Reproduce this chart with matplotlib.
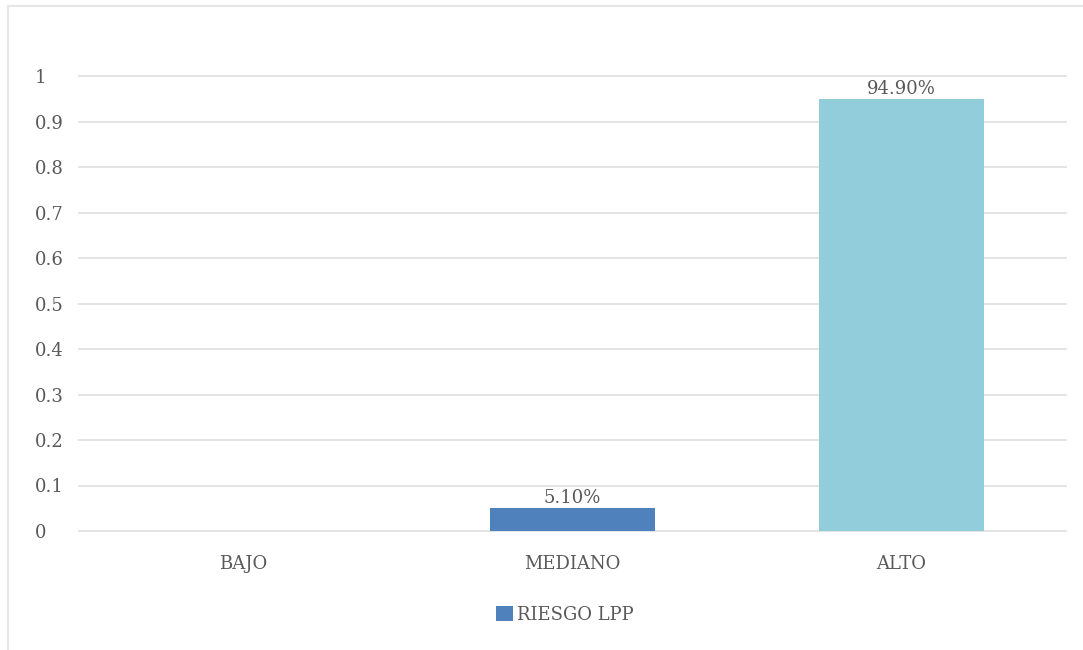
import matplotlib
matplotlib.use("Agg")
import matplotlib.pyplot as plt
from matplotlib.lines import Line2D
from matplotlib.patches import Patch

categories = ["BAJO", "MEDIANO", "ALTO"]
values = [0.0, 0.051, 0.949]
labels = ["", "5.10%", "94.90%"]
series_name = "RIESGO LPP"
yticks = [0, 0.1, 0.2, 0.3, 0.4, 0.5, 0.6, 0.7, 0.8, 0.9, 1]
ytick_labels = ["0", "0.1", "0.2", "0.3", "0.4", "0.5", "0.6", "0.7", "0.8", "0.9", "1"]
bar_colors = ["#4F81BD", "#4F81BD", "#92CDDC"]

plt.rcParams['font.family'] = ['DejaVu Serif']
text_color = "#595959"
fs = 13

fig = plt.figure(figsize=(10.83, 6.5), dpi=100)
ax = fig.add_axes([79/1083, 1 - 531/650, (1066 - 79)/1083, (531 - 76)/650])

x = list(range(len(categories)))
bars = ax.bar(x, values, width=0.5, color=bar_colors, zorder=3)
for b, lab in zip(bars, labels):
    if lab:
        ax.text(b.get_x() + b.get_width()/2, b.get_height() + 0.002, lab,
                ha="center", va="bottom", fontsize=fs, color=text_color, zorder=4)

ax.set_xlim(-0.5, 2.5)
ax.set_ylim(0, 1)
ax.set_yticks(yticks)
ax.set_yticklabels(ytick_labels)
ax.set_xticks(x)
ax.set_xticklabels(categories)
ax.tick_params(axis="both", length=0, colors=text_color, labelsize=fs)
for lab in ax.get_yticklabels():
    lab.set_horizontalalignment("left")
ax.yaxis.set_tick_params(pad=32)
ax.xaxis.set_tick_params(pad=17)
ax.grid(axis="y", color="#E0E0E0", linewidth=1.3, zorder=0)
for gl in ax.get_ygridlines():
    gl.set_clip_on(False)
for s in ax.spines.values():
    s.set_visible(False)

handles = [Patch(facecolor="#4F81BD", label=series_name)]
fig.legend(handles=handles, loc="center", bbox_to_anchor=(565/1083, 1 - 615/650),
           frameon=False, fontsize=fs, handlelength=0.9, handleheight=0.9,
           handletextpad=0.25, labelcolor=text_color)

# outer border
fig.add_artist(Line2D([7.5/1083, 7.5/1083], [0, 1 - 6/650], color="#E6E6E6", lw=1.5, transform=fig.transFigure))
fig.add_artist(Line2D([7.5/1083, 1], [1 - 6/650, 1 - 6/650], color="#E6E6E6", lw=1.5, transform=fig.transFigure))

fig.savefig("out.png", dpi=100)
